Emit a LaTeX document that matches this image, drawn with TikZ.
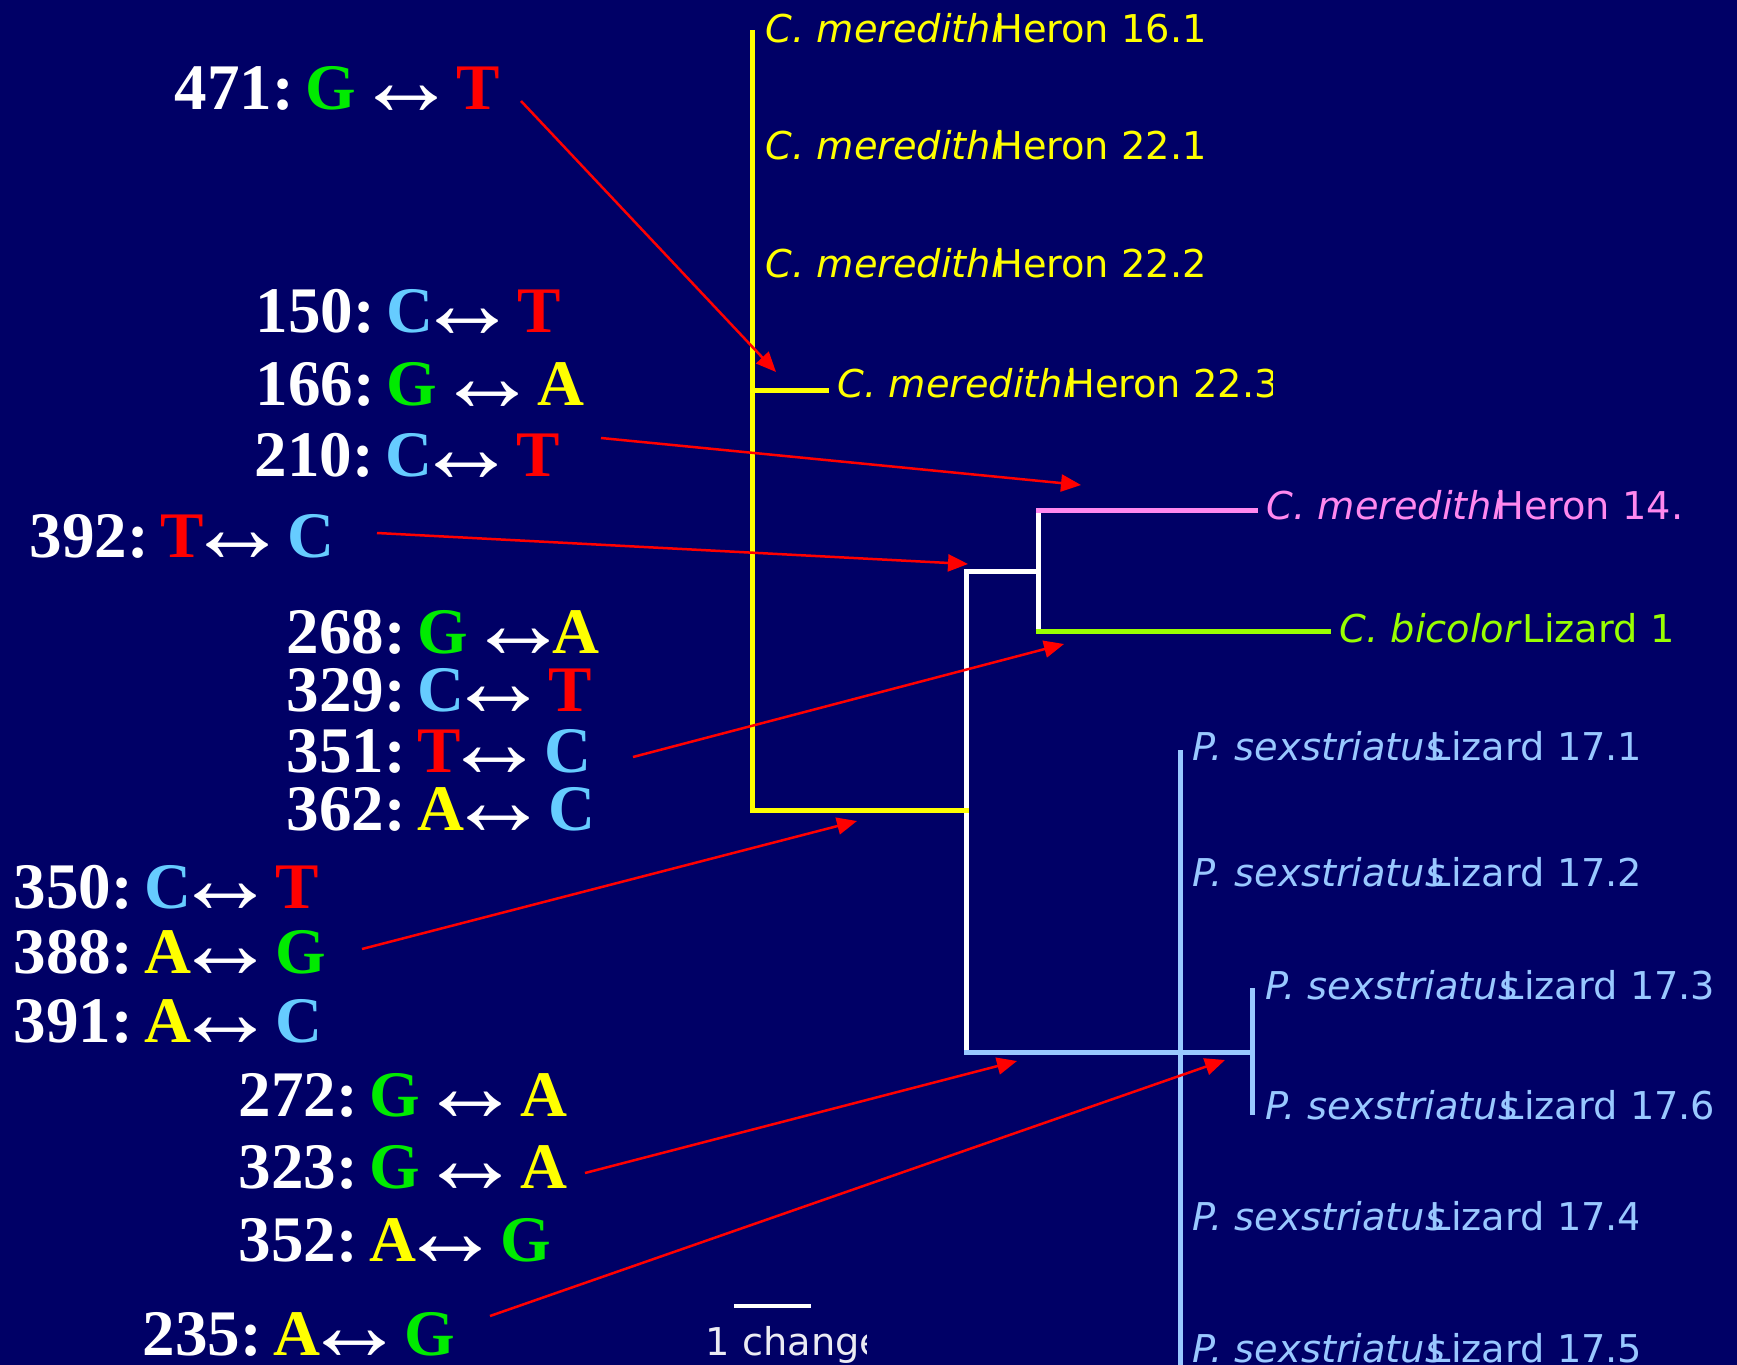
\documentclass[tikz,border=0pt]{standalone}
\usepackage{fontspec}
\usepackage{graphicx}
\setmainfont{Liberation Serif}
\newfontfamily\treefont{DejaVu Sans}
\usetikzlibrary{arrows.meta}
\definecolor{navybg}{RGB}{0,0,102}
\definecolor{baseG}{RGB}{0,235,0}
\definecolor{baseT}{RGB}{255,0,0}
\definecolor{baseC}{RGB}{102,204,255}
\definecolor{baseA}{RGB}{255,255,0}
\definecolor{heronyellow}{RGB}{255,255,0}
\definecolor{heronpink}{RGB}{255,136,238}
\definecolor{lizardlime}{RGB}{153,255,0}
\definecolor{sexblue}{RGB}{153,200,255}
\newcommand{\nG}{\textcolor{baseG}{G}}
\newcommand{\nT}{\textcolor{baseT}{T}}
\newcommand{\nC}{\textcolor{baseC}{C}}
\newcommand{\nA}{\textcolor{baseA}{A}}
\newcommand{\swap}{\kern-0.28em\raisebox{-0.09em}{\scalebox{1.6}{↔}}\kern-0.28em}
\newcommand{\site}[1]{#1:\hspace{0.18em}}
\tikzset{
  mut label/.style={anchor=base west,inner sep=0pt,text=white,font=\fontsize{18.5}{20}\selectfont\bfseries},
  tip label/.style={anchor=base west,inner sep=0pt,font=\treefont\fontsize{10.9}{12}\selectfont},
  branch/.style={line width=0.5mm,line cap=rect},
  mut arrow/.style={-{Triangle[length=2mm,width=1.7mm]},red,line width=0.25mm},
}

\begin{document}
\begin{tikzpicture}[x=0.1mm,y=-0.1mm]
  \fill[navybg] (0,0) rectangle (1737,1365);
  \useasboundingbox (0,0) rectangle (1737,1365);

  % tree
  \coordinate (hTop) at (752,33);
  \coordinate (h223) at (752,391);
  \coordinate (h223tip) at (826,391);
  \coordinate (hBase) at (752,810);
  \coordinate (root) at (966,810);
  \coordinate (cNode) at (966,571);
  \coordinate (pNode) at (966,1052);
  \coordinate (cm) at (1038,571);
  \coordinate (cmA) at (1038,511);
  \coordinate (cmB) at (1038,631);
  \coordinate (h14tip) at (1255,511);
  \coordinate (bictip) at (1328,631);
  \coordinate (sxTop) at (1180,752);
  \coordinate (sxBot) at (1180,1365);
  \coordinate (sxNode) at (1252,1052);
  \coordinate (sx3) at (1252,990);
  \coordinate (sx6) at (1252,1112);

  \draw[branch,white] (cNode)--(pNode);
  \draw[branch,white] (cNode)--(cm);
  \draw[branch,white] (cmA)--(cmB);
  \draw[branch,heronyellow] (hTop)--(hBase)--(root);
  \draw[branch,heronyellow] (h223)--(h223tip);
  \draw[branch,heronpink] (cmA)--(h14tip);
  \draw[branch,lizardlime] (cmB)--(bictip);
  \draw[branch,sexblue] (sxTop)--(sxBot);
  \draw[branch,sexblue] (pNode)--(sxNode);
  \draw[branch,sexblue] (sx3)--(sx6);

  \node[tip label,text=heronyellow] (h161) at (765,43) {\textit{C. meredithi}\kern-0.2em Heron 16.1};
  \node[tip label,text=heronyellow] (h221) at (765,160) {\textit{C. meredithi}\kern-0.2em Heron 22.1};
  \node[tip label,text=heronyellow] (h222) at (765,278) {\textit{C. meredithi}\kern-0.2em Heron 22.2};
  \begin{scope}
    \clip (830,340) rectangle (1272,420);
    \node[tip label,text=heronyellow] (h223lab) at (837,398) {\textit{C. meredithi}\kern-0.2em Heron 22.3};
  \end{scope}
  \node[tip label,text=heronpink] (h14) at (1266,520) {\textit{C. meredithi}\kern-0.2em Heron 14.};
  \node[tip label,text=lizardlime] (bic) at (1339,642) {\textit{C. bicolor}\kern0.02em Lizard 1};
  \node[tip label,text=sexblue] (s171) at (1192,760) {\textit{P. sexstriatus}\kern-0.4em Lizard 17.1};
  \node[tip label,text=sexblue] (s172) at (1192,886) {\textit{P. sexstriatus}\kern-0.4em Lizard 17.2};
  \node[tip label,text=sexblue] (s173) at (1265,999) {\textit{P. sexstriatus}\kern-0.4em Lizard 17.3};
  \node[tip label,text=sexblue] (s176) at (1265,1119) {\textit{P. sexstriatus}\kern-0.4em Lizard 17.6};
  \begin{scope}
    \clip (1185,1180) rectangle (1637,1250);
    \node[tip label,text=sexblue] (s174) at (1192,1230) {\textit{P. sexstriatus}\kern-0.4em Lizard 17.4};
  \end{scope}
  \node[tip label,text=sexblue] (s175) at (1192,1362) {\textit{P. sexstriatus}\kern-0.4em Lizard 17.5};

  % scale bar
  \coordinate (barL) at (734,1306);
  \coordinate (barR) at (811,1306);
  \draw[white,line width=0.4mm] (barL)--(barR);
  \begin{scope}
    \clip (690,1310) rectangle (866,1365);
    \node[tip label,text=white!92!navybg] (scale) at (705,1355) {1 change};
  \end{scope}

  % substitutions
  \node[mut label] (m471) at (174,110) {\site{471}\nG{} \swap{} \nT};
  \node[mut label] (m150) at (255,333) {\site{150}\nC\swap{} \nT};
  \node[mut label] (m166) at (255,406) {\site{166}\nG{} \swap{} \nA};
  \node[mut label] (m210) at (254,477) {\site{210}\nC\swap{} \nT};
  \node[mut label] (m392) at (29,557) {\site{392}\nT\swap{} \nC};
  \node[mut label] (m268) at (286,653) {\site{268}\nG{} \swap\nA};
  \node[mut label] (m329) at (286,711) {\site{329}\nC\swap{} \nT};
  \node[mut label] (m351) at (286,772) {\site{351}\nT\swap{} \nC};
  \node[mut label] (m362) at (286,830) {\site{362}\nA\swap{} \nC};
  \node[mut label] (m350) at (13,908) {\site{350}\nC\swap{} \nT};
  \node[mut label] (m388) at (13,973) {\site{388}\nA\swap{} \nG};
  \node[mut label] (m391) at (13,1042) {\site{391}\nA\swap{} \nC};
  \node[mut label] (m272) at (238,1116) {\site{272}\nG{} \swap{} \nA};
  \node[mut label] (m323) at (238,1188) {\site{323}\nG{} \swap{} \nA};
  \node[mut label] (m352) at (238,1261) {\site{352}\nA\swap{} \nG};
  \node[mut label] (m235) at (142,1355) {\site{235}\nA\swap{} \nG};

  \coordinate (t471) at (521,101);
  \coordinate (e471) at (776,372);
  \coordinate (t210) at (601,438);
  \coordinate (e210) at (1081,485);
  \coordinate (t392) at (377,533);
  \coordinate (e392) at (968,564);
  \coordinate (t351) at (633,757);
  \coordinate (e351) at (1064,644);
  \coordinate (t388) at (362,949);
  \coordinate (e388) at (857,821);
  \coordinate (t323) at (585,1173);
  \coordinate (e323) at (1017,1061);
  \coordinate (t235) at (490,1316);
  \coordinate (e235) at (1225,1060);
  \draw[mut arrow] (t471)--(e471);
  \draw[mut arrow] (t210)--(e210);
  \draw[mut arrow] (t392)--(e392);
  \draw[mut arrow] (t351)--(e351);
  \draw[mut arrow] (t388)--(e388);
  \draw[mut arrow] (t323)--(e323);
  \draw[mut arrow] (t235)--(e235);
\end{tikzpicture}
\end{document}
